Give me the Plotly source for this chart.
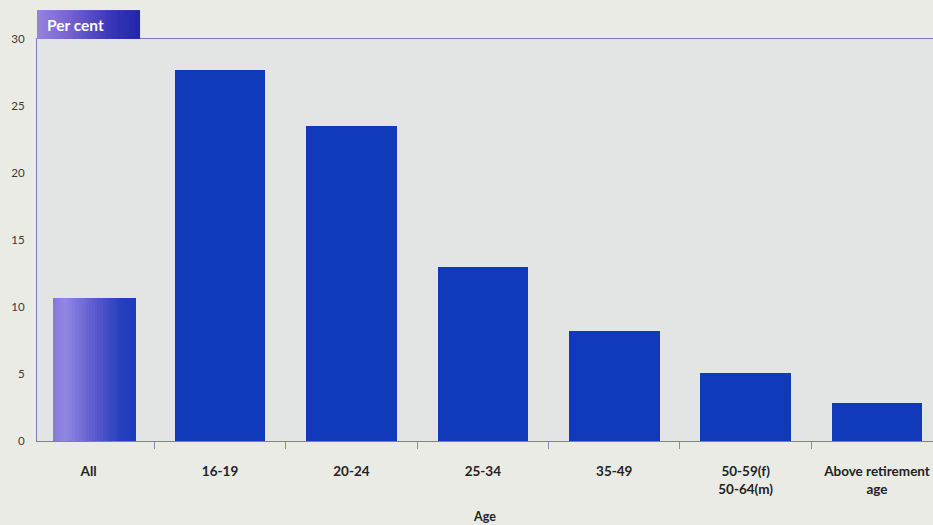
import plotly.graph_objects as go

# Unemployment rate by age group
categories = ["All", "16-19", "20-24", "25-34", "35-49", "50-59(f)<br>50-64(m)", "Above retirement<br>age"]
rates = [10.7, 27.7, 23.5, 13.0, 8.2, 5.1, 2.8]
y_ticks = [0, 5, 10, 15, 20, 25, 30]

BAR_BLUE = "#113abb"
PLOT_BG = "#e3e4e4"
PAPER_BG = "#ebebe6"
AXIS_LINE = "#7a78c0"
FONT = "Lato"


def mix(stops, t):
    """Linear interpolation across a list of (pos, (r, g, b)) colour stops."""
    for (p0, c0), (p1, c1) in zip(stops, stops[1:]):
        if p0 <= t <= p1:
            f = (t - p0) / (p1 - p0) if p1 > p0 else 0
            r, g, b = (round(a + (b_ - a) * f) for a, b_ in zip(c0, c1))
            return f"rgb({r},{g},{b})"
    r, g, b = stops[-1][1]
    return f"rgb({r},{g},{b})"


fig = go.Figure()

# Age-group bars (the "All" bar is drawn separately with a shaded fill)
fig.add_trace(go.Bar(
    x=categories[1:], y=rates[1:],
    width=0.69,
    marker=dict(color=BAR_BLUE, line=dict(width=0)),
    hoverinfo="x+y",
))

# "All" bar: sliced into narrow strips to give a light-to-dark sheen
all_width, all_offset = 0.63, -0.27
glow_stops = [(0.0, (132, 120, 218)), (0.15, (146, 134, 228)), (0.5, (92, 90, 206)),
              (0.8, (40, 64, 190)), (1.0, (26, 60, 188))]
n_strips = 30
strip = all_width / n_strips
for k in range(n_strips):
    fig.add_trace(go.Bar(
        x=[categories[0]], y=[rates[0]],
        width=strip + 0.002, offset=all_offset + k * strip,
        marker=dict(color=mix(glow_stops, (k + 0.5) / n_strips), line=dict(width=0)),
        hoverinfo="x+y", showlegend=False,
    ))

# "Per cent" tab above the plot, with a purple-to-blue sheen
tab_stops = [(0.0, (150, 130, 222)), (0.3, (120, 100, 210)), (0.7, (60, 55, 185)), (1.0, (32, 38, 168))]
tab_x0, tab_x1, tab_y0, tab_y1 = 0.0, 0.115, 1.0, 1.072
n_tab = 30
for k in range(n_tab):
    xa = tab_x0 + (tab_x1 - tab_x0) * k / n_tab
    xb = tab_x0 + (tab_x1 - tab_x0) * (k + 1) / n_tab + 0.0008
    fig.add_shape(type="rect", xref="paper", yref="paper",
                  x0=xa, x1=min(xb, tab_x1), y0=tab_y0, y1=tab_y1,
                  fillcolor=mix(tab_stops, (k + 0.5) / n_tab), line=dict(width=0), layer="above")
fig.add_annotation(text="<b>Per cent</b>", xref="paper", yref="paper",
                   x=0.009, y=(tab_y0 + tab_y1) / 2, xanchor="left", yanchor="middle",
                   showarrow=False, font=dict(family=FONT, size=15.5, color="white"))

fig.update_layout(
    width=933, height=525,
    margin=dict(l=37, r=0, t=39, b=84),
    paper_bgcolor=PAPER_BG,
    plot_bgcolor=PLOT_BG,
    barmode="overlay",
    bargap=0,
    showlegend=False,
    font=dict(family=FONT, color="#2a2a2a"),
    xaxis=dict(
        type="category",
        categoryorder="array", categoryarray=categories,
        range=[-0.393, 6.426],
        tickson="boundaries",
        ticks="outside", ticklen=7, tickcolor="#8a88b8", tickwidth=1,
        showline=True, linecolor=AXIS_LINE, linewidth=1, mirror=True,
        showgrid=False,
        tickfont=dict(family=FONT, size=13.5, color="#222222", weight="bold"),
        ticklabelstandoff=18,
        title=dict(text="<b>Age</b>", font=dict(family=FONT, size=12.5, color="#222222"), standoff=16),
    ),
    yaxis=dict(
        range=[0, 30],
        tickvals=y_ticks,
        showline=True, linecolor=AXIS_LINE, linewidth=1,
        showgrid=False, zeroline=False,
        ticks="",
        tickfont=dict(family=FONT, size=11.5, color="#3a3a3a"),
        ticklabelstandoff=9,
    ),
)

fig.write_html("out.html")
